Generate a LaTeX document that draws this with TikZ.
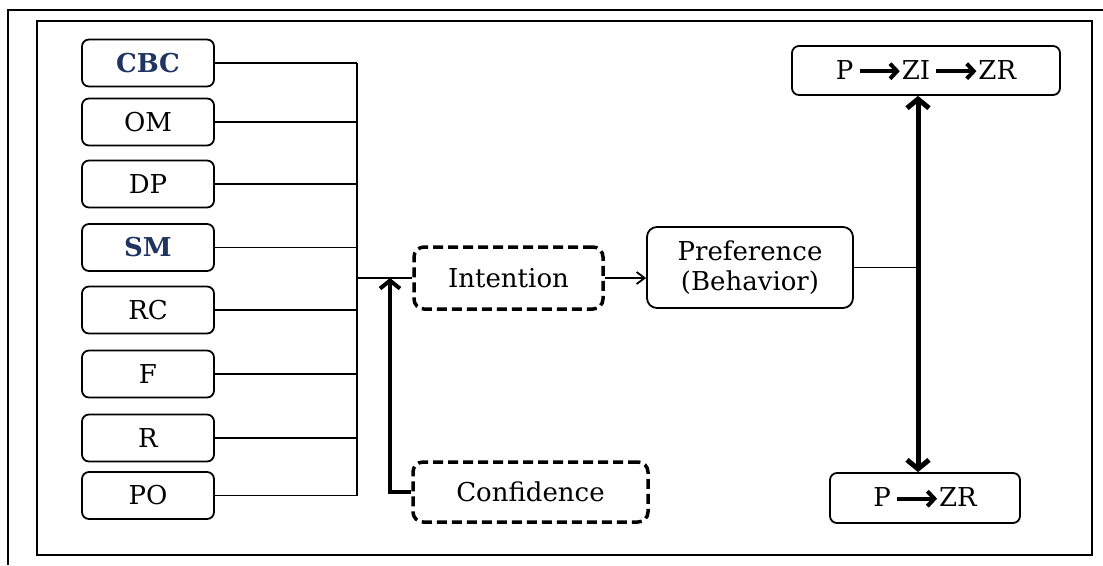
\documentclass[tikz,border=0pt]{standalone}
\usepackage{fontspec}
\setmainfont{DejaVu Serif}
\usetikzlibrary{arrows.meta}
\definecolor{cbcblue}{RGB}{31,52,100}
\newcommand{\fwd}{\,\tikz[baseline=-0.6ex]\draw[line width=4pt,-{Straight Barb[length=7pt,width=15pt]}] (0pt,0pt) -- (40pt,0pt);}

\begin{document}
\begin{tikzpicture}[x=1pt,y=-1pt,font=\fontsize{26}{30}\selectfont]
  \tikzstyle{fac}=[draw,line width=1.8pt,rounded corners=7pt,minimum width=132pt,
    minimum height=47pt,inner sep=0pt,align=center]
  \tikzstyle{dbox}=[draw,line width=3.5pt,dash pattern=on 10pt off 5pt,
    rounded corners=10pt,inner sep=0pt]
  \tikzstyle{hi}=[text=cbcblue,font=\fontsize{26}{30}\selectfont\bfseries]
  \tikzstyle{wire}=[line width=1.8pt]
  \tikzstyle{up}=[line width=4pt,-{Straight Barb[length=8pt,width=20pt]}]
  \useasboundingbox (0,0) rectangle (1103,565);

  % -- frames --
  \draw[line width=1.2pt] (8,565) -- (8,10) -- (1103,10);
  \draw[line width=1.8pt] (37,21) rectangle (1092,555);

  % -- factors on the left --
  \node[fac,hi] (cbc) at (148,63) {CBC};
  \node[fac] (om) at (148,122) {OM};
  \node[fac] (dp) at (148,184) {DP};
  \node[fac,hi] (sm) at (148,247.5) {SM};
  \node[fac] (rc) at (148,310) {RC};
  \node[fac] (fr) at (148,374) {F};
  \node[fac] (rr) at (148,438) {R};
  \node[fac] (po) at (148,495.5) {PO};
  \coordinate (bus) at (357,63);
  \draw[wire] (cbc.east) -- (cbc.east -| bus); \draw[wire] (om.east) -- (om.east -| bus);
  \draw[wire] (dp.east) -- (dp.east -| bus); \draw[wire] (sm.east) -- (sm.east -| bus);
  \draw[wire] (rc.east) -- (rc.east -| bus); \draw[wire] (fr.east) -- (fr.east -| bus);
  \draw[wire] (rr.east) -- (rr.east -| bus); \draw[wire] (po.east) -- (po.east -| bus);
  \draw[wire] (cbc.east -| bus) -- (po.east -| bus);

  % -- intention and confidence --
  \node[dbox,minimum width=189pt,minimum height=62pt] (int) at (508.5,278) {Intention};
  \node[dbox,minimum width=235pt,minimum height=60pt] (conf) at (530.5,492) {Confidence};
  \coordinate (join) at (390,278);
  \draw[wire] (int.west -| bus) -- (int.west);
  \draw[up] (conf.west) -| (join);

  % -- preference --
  \node[fac,minimum width=206pt,minimum height=81pt,rounded corners=10pt] (pref) at (750,267.5) {Preference\\(Behavior)};
  \draw[wire,-{Straight Barb[length=8pt,width=12pt]}] (int.east) -- (int.east -| pref.west);

  % -- outcomes on the right --
  \node[fac,minimum width=268pt,minimum height=49pt] (zi) at (926,70.5) {P\fwd ZI\fwd ZR};
  \node[fac,minimum width=190pt,minimum height=50pt] (zr) at (925,498) {P\fwd ZR};
  \coordinate (axis) at (918,0);
  \draw[line width=5pt,{Straight Barb[length=9pt,width=22pt]}-{Straight Barb[length=9pt,width=22pt]}]
    (zi.south -| axis) -- (zr.north -| axis);
  \draw[wire] (pref.east) -- (pref.east -| axis);
\end{tikzpicture}
\end{document}
